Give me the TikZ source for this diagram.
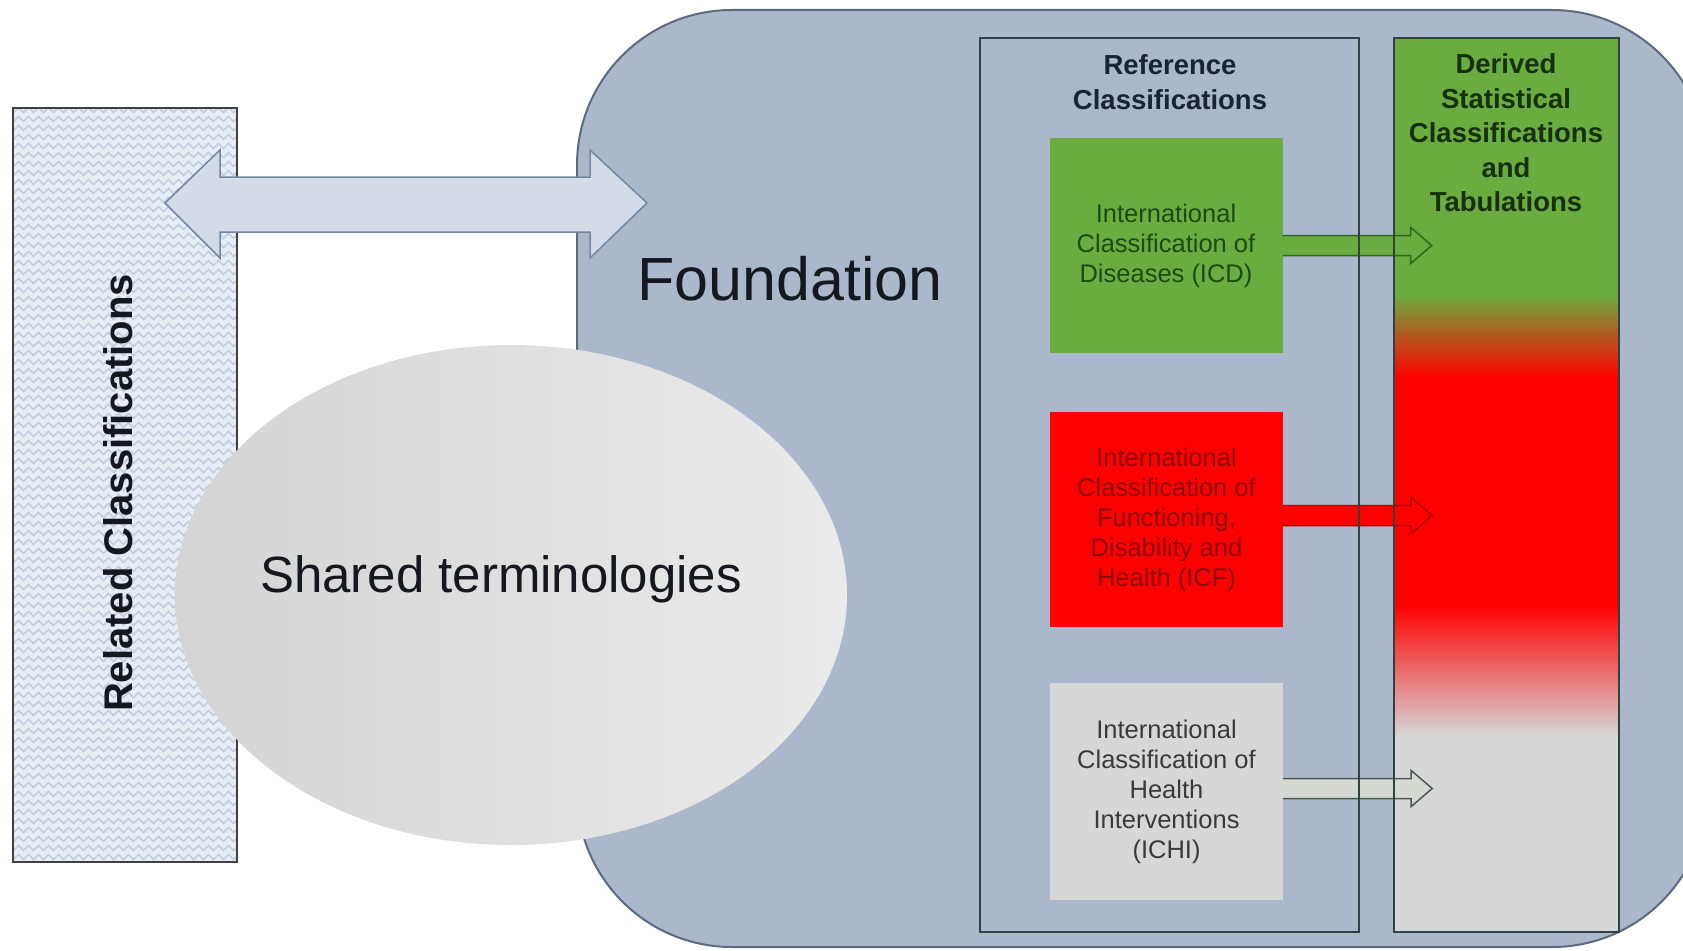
\documentclass[tikz,border=0pt]{standalone}
\usepackage{fontspec}
\setmainfont{Liberation Sans}
\usetikzlibrary{calc,decorations.pathmorphing,shapes.geometric}
\definecolor{fnd}{HTML}{ABB7CA}
\definecolor{fndline}{HTML}{5C6B80}
\definecolor{boxline}{HTML}{2F4242}
\definecolor{gr}{HTML}{6BAC40}
\definecolor{grdark}{HTML}{2E6A1E}
\definecolor{grtext}{HTML}{1D4A12}
\definecolor{rd}{HTML}{FF0000}
\definecolor{rddark}{HTML}{B00000}
\definecolor{rdtext}{HTML}{8A0A0A}
\definecolor{gy}{HTML}{D7D7D7}
\definecolor{gyarrow}{HTML}{D6D9D2}
\definecolor{gydark}{HTML}{4B5A57}
\definecolor{gytext}{HTML}{3A3A3A}
\definecolor{relfill}{HTML}{E8EDF5}
\definecolor{relzig}{HTML}{C2CDDE}
\definecolor{dbl}{HTML}{D4DBE6}
\definecolor{dblline}{HTML}{7386A2}
\definecolor{navytext}{HTML}{1B2433}
\definecolor{dgtext}{HTML}{163010}
\definecolor{blk}{HTML}{15191F}
\newcommand{\blockarr}[2]{\filldraw[#1] ($#2+(0,10)$) -- ++(128,0) -- ++(0,8) -- ($#2+(149,0)$) -- ($#2+(128,-18)$) -- ++(0,8) -- ($#2+(0,-10)$);}
\begin{document}
\begin{tikzpicture}[x=1pt,y=-1pt,
  refitem/.style={minimum width=233pt, minimum height=215pt, inner sep=0pt, align=center,
    font=\fontsize{25.5}{30}\selectfont},
  titletext/.style={align=center, font=\fontsize{27.5}{34.5}\selectfont\bfseries},
  framebox/.style={draw=boxline, line width=2pt}]
\useasboundingbox (0,0) rectangle (1683,950);
\clip (0,0) rectangle (1683,950);
\fill[white] (0,0) rectangle (1683,950);

% Foundation background
\draw[fill=fnd, draw=fndline, line width=2pt, rounded corners=155pt] (577,10) rectangle (1707,947);
\node[anchor=base, text=blk, font=\fontsize{61}{70}\selectfont] (foundation) at (790,300) {Foundation};

% Related classifications box
\node[fill=relfill, minimum width=224pt, minimum height=754pt, inner sep=0pt] (related) at (125,485) {};
\begin{scope}
\clip (13,108) rectangle (237,862);
\foreach \yy in {110,119,...,866}
  \draw[relzig, line width=1.5pt, decorate, decoration={zigzag,segment length=10pt,amplitude=2.5pt}] (6,\yy) -- (246,\yy);
\end{scope}
\draw[draw=black!75, line width=1.5pt] (related.north west) rectangle (related.south east);
\node[rotate=90, anchor=base, text=blk, font=\fontsize{40}{48}\selectfont\bfseries] (relt) at (132,493) {Related Classifications};

% Shared terminologies ellipse
\node[ellipse, minimum width=672pt, minimum height=500pt, inner sep=0pt,
  left color=black!17, right color=black!8] (shared) at (511,595) {};
\node[anchor=base, text=blk, font=\fontsize{51}{60}\selectfont] (sharedt) at (501,592) {Shared terminologies};

% Double arrow
\filldraw[fill=dbl, draw=dblline, line width=1.5pt, line join=miter]
  (165,203) -- (220,150) -- (220,177) -- (590,177) -- (590,150) -- (647,203)
  -- (590,258) -- (590,232) -- (220,232) -- (220,258) -- cycle;

% Reference classifications frame (drawn later)
\node[minimum width=378pt, minimum height=894pt, inner sep=0pt] (refbox) at (1169.5,485) {};
\node[titletext, text=navytext] (reft) at (1170,82) {Reference\\Classifications};

% Derived frame
\node[minimum width=225pt, minimum height=894pt, inner sep=0pt] (derived) at (1506.5,485) {};
\fill[gr] (1394,38) rectangle (1619,296);
\shade[top color=gr, bottom color=rd] (1394,295) rectangle (1619,378);
\fill[rd] (1394,377) rectangle (1619,606);
\shade[top color=rd, bottom color=gy] (1394,605) rectangle (1619,736);
\fill[gy] (1394,735) rectangle (1619,932);

% Items
\node[refitem, fill=gr, text=grtext] (icd) at (1166,245.5) {International\\Classification of\\Diseases (ICD)};
\node[refitem, fill=rd, text=rdtext] (icf) at (1166.5,519.5) {International\\Classification of\\Functioning,\\Disability and\\Health (ICF)};
\node[refitem, fill=gy, text=gytext, minimum height=217pt] (ichi) at (1166.5,791.5) {International\\Classification of\\Health\\Interventions\\(ICHI)};

% Block arrows
\blockarr{fill=gr, draw=grdark, line width=1.5pt}{(icd.east)}
\blockarr{fill=rd, draw=rddark, line width=1.5pt}{($(icf.east)+(0,-4)$)}
\blockarr{fill=gyarrow, draw=gydark, line width=1.5pt}{($(ichi.east)+(0,-3)$)}

% Frames on top
\draw[framebox] (refbox.north west) rectangle (refbox.south east);
\draw[framebox] (derived.north west) rectangle (derived.south east);
\node[titletext, text=dgtext] (dert) at (1506,133) {Derived\\Statistical\\Classifications\\and\\Tabulations};
\end{tikzpicture}
\end{document}
